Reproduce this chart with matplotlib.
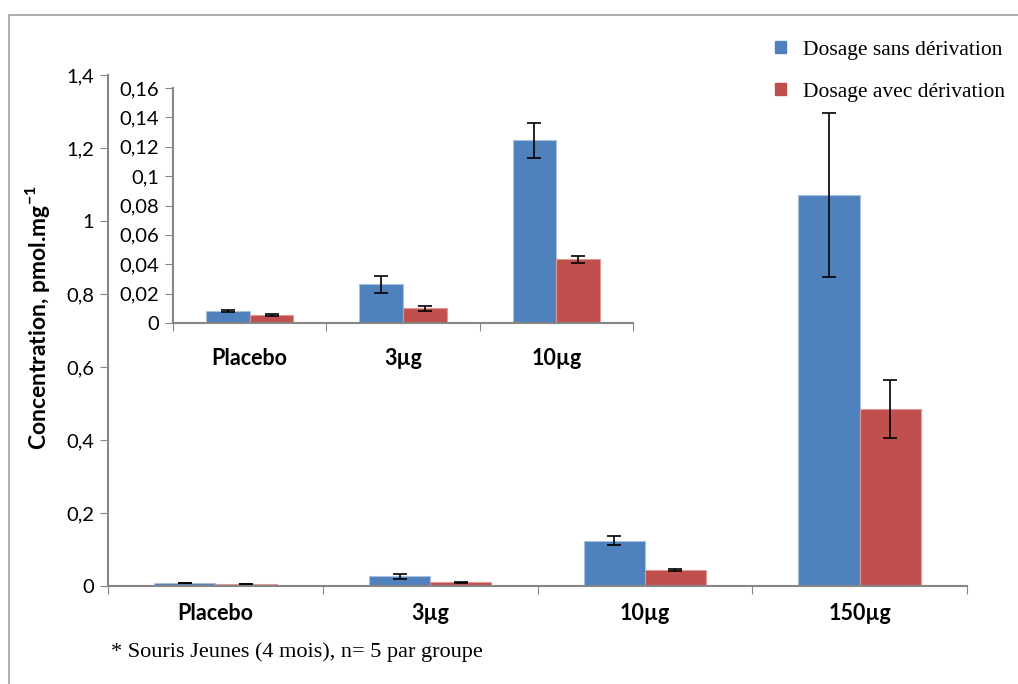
import numpy as np
import matplotlib
matplotlib.use("Agg")
import matplotlib.pyplot as plt
from matplotlib.patches import Rectangle

plt.rcParams['font.family'] = ['Lato', 'DejaVu Sans']
plt.rcParams['mathtext.fontset'] = 'custom'
plt.rcParams['mathtext.rm'] = 'Lato'
plt.rcParams['mathtext.bf'] = 'Lato:bold'

# data
groups = ['Placebo', '3µg', '10µg', '150µg']
sans_deriv = [0.0082, 0.0263, 0.1243, 1.071]
sans_err = [0.0005, 0.0058, 0.0117, 0.225]
avec_deriv = [0.0054, 0.0100, 0.0433, 0.485]
avec_err = [0.0005, 0.0016, 0.0023, 0.079]

main_ticks = [0, 0.2, 0.4, 0.6, 0.8, 1.0, 1.2, 1.4]
inset_ticks = [0, 0.02, 0.04, 0.06, 0.08, 0.10, 0.12, 0.14, 0.16]

blue = '#4F81BD'
red = '#C0504D'
grey = '#868686'
W, H = 1018, 684


def fmt(v):
    return ('%g' % round(v, 3)).replace('.', ',')


def draw(ax, n, ylim, yticks, label_pad):
    x = np.arange(n)
    w = 0.285
    ax.bar(x - w / 2, sans_deriv[:n], w, color=blue, edgecolor='#A7C0DE', linewidth=0.8,
           yerr=sans_err[:n], error_kw=dict(ecolor='black', elinewidth=1.2, capsize=5, capthick=1.2))
    ax.bar(x + w / 2, avec_deriv[:n], w, color=red, edgecolor='#DE9896', linewidth=0.8,
           yerr=avec_err[:n], error_kw=dict(ecolor='black', elinewidth=1.2, capsize=5, capthick=1.2))
    ax.set_xlim(-0.5, n - 0.5)
    ax.set_ylim(*ylim)
    ax.set_yticks(yticks)
    ax.set_yticklabels([fmt(v) for v in yticks], fontsize=14.5)
    ax.set_xticks(np.arange(n + 1) - 0.5)
    ax.set_xticklabels([])
    ax.set_xticks(x, minor=True)
    ax.set_xticklabels(groups[:n], minor=True, fontsize=15.5, fontweight='bold')
    ax.tick_params(axis='x', which='minor', length=0, pad=label_pad)
    ax.tick_params(axis='x', which='major', length=6, color=grey, direction='out')
    ax.tick_params(axis='y', length=6, color=grey, direction='out', pad=4)
    for s in ['top', 'right']:
        ax.spines[s].set_visible(False)
    for s in ['left', 'bottom']:
        ax.spines[s].set_color(grey)
        ax.spines[s].set_linewidth(1.5)


fig = plt.figure(figsize=(W / 100, H / 100), dpi=100)

# outer chart frame (only top and left edges visible)
fig.patches.append(Rectangle((9 / W, -0.1), 1.2, 1 - 15 / H + 0.1, transform=fig.transFigure,
                             fill=False, edgecolor='#A0A0A0', linewidth=1.2))

ax = fig.add_axes([108 / W, 1 - 586 / H, (967 - 108) / W, (586 - 75) / H])
draw(ax, 4, (0, 1.4), main_ticks, 12)

ins = fig.add_axes([173 / W, 1 - 323 / H, (633 - 173) / W, (323 - 88) / H])
ins.patch.set_alpha(0)
draw(ins, 3, (0, 0.16), inset_ticks, 18)

fig.text(38 / W, 1 - 318 / H, r'Concentration, pmol.mg$^{\mathbf{-1}}$', rotation=90,
         ha='center', va='center', fontsize=16.5, fontweight='bold')

handles = [Rectangle((0, 0), 1, 1, color=blue), Rectangle((0, 0), 1, 1, color=red)]
fig.legend(handles, ['Dosage sans dérivation', 'Dosage avec dérivation'],
           loc='upper left', bbox_to_anchor=(775 / W, 1 - 41 / H), frameon=False,
           prop={'family': 'Liberation Serif', 'size': 15.5}, handlelength=0.5, handleheight=0.5,
           handletextpad=0.8, labelspacing=1.05, borderpad=0, borderaxespad=0)

fig.text(111 / W, 1 - 652 / H, '* Souris Jeunes (4 mois), n= 5 par groupe',
         family='Liberation Serif', fontsize=16, va='center', ha='left')

fig.savefig('out.png', dpi=100)
